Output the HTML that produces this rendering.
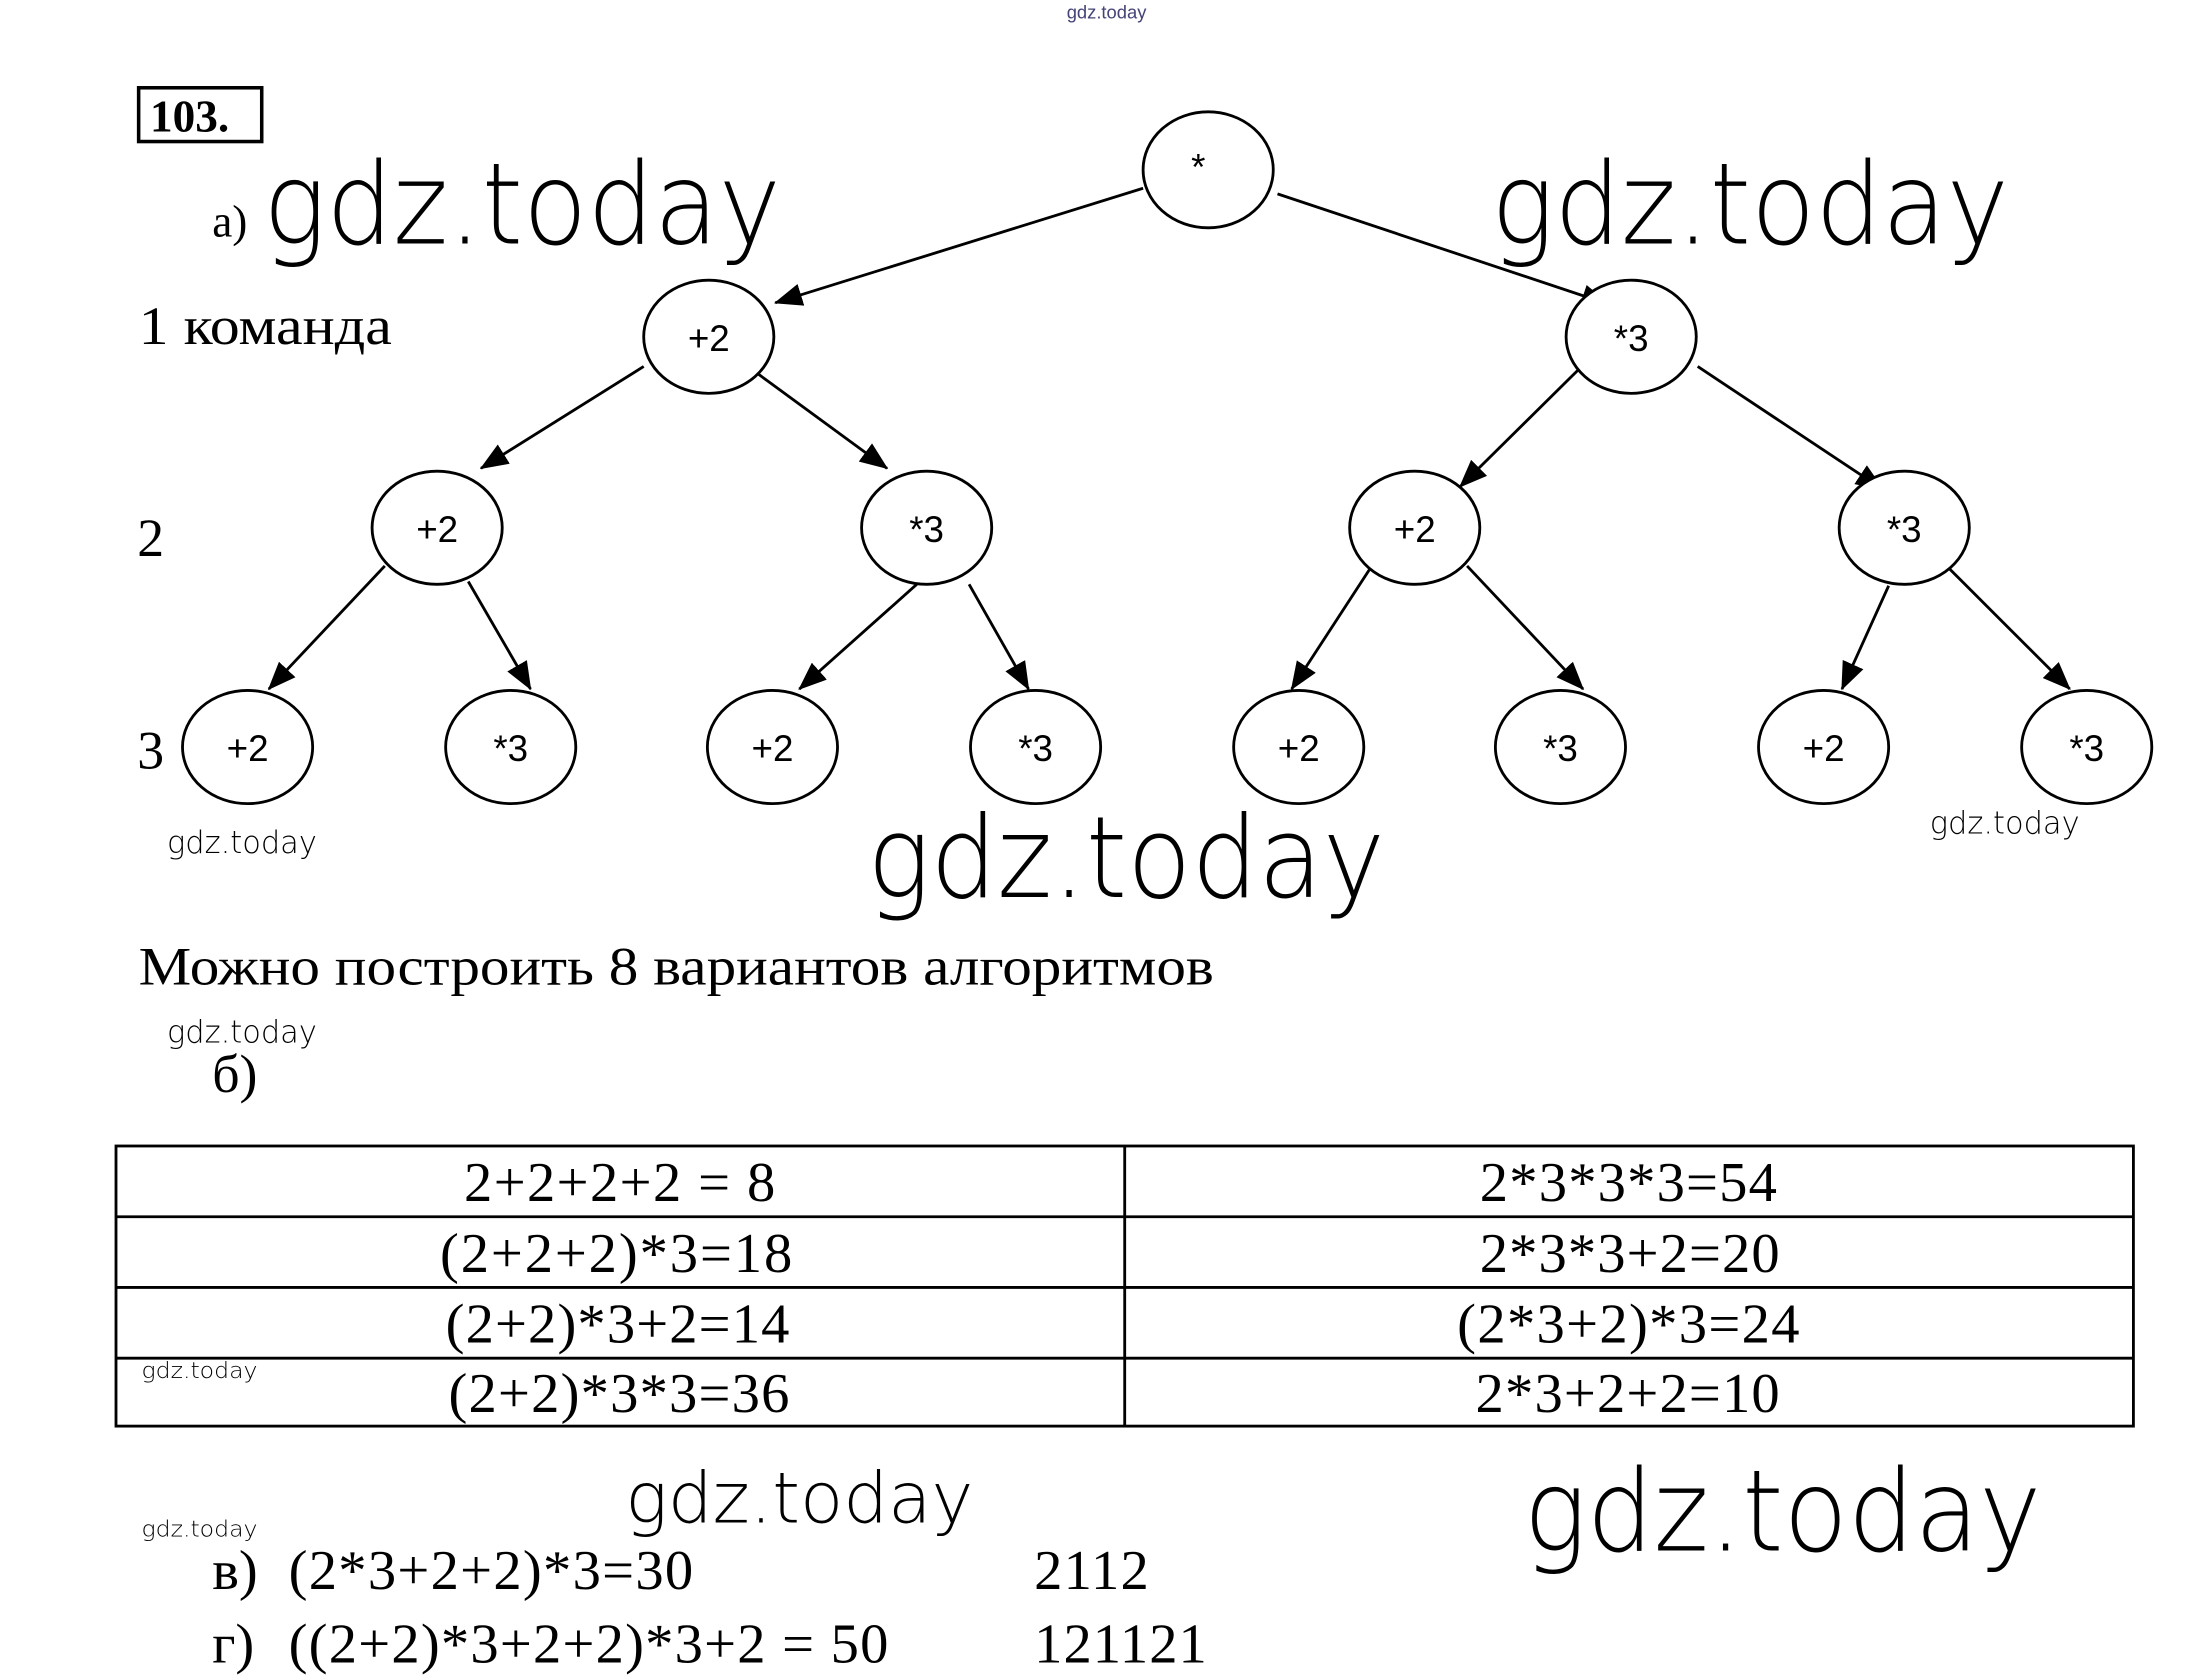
<!DOCTYPE html>
<html><head><meta charset="utf-8"><style>
html,body{margin:0;padding:0;background:#fff;}
svg{display:block;}
.t{font-family:"Liberation Serif",serif;fill:#000;}
.w{font-family:"DejaVu Sans","Liberation Sans",sans-serif;font-weight:200;fill:#000;}
.n{font-family:"Liberation Sans",sans-serif;font-size:26px;fill:#000;text-anchor:middle;}
</style></head><body>
<svg width="2190" height="1678" viewBox="0 0 1548 1186" xmlns="http://www.w3.org/2000/svg">
<defs><marker id="b" markerWidth="20" markerHeight="16" refX="19" refY="8" orient="auto" markerUnits="userSpaceOnUse"><path d="M0,0 L20,8 L0,16 z" fill="#000"/></marker></defs>
<text x="754" y="13" font-size="13" fill="#447" font-family="Liberation Sans,sans-serif">gdz.today</text>
<rect x="98" y="62" width="87" height="38" fill="none" stroke="#000" stroke-width="2.5"/>
<text class="t" x="106" y="93" font-size="32" font-weight="bold">103.</text>
<text class="t" x="150" y="167" font-size="32">а)</text>
<text class="w" x="186" y="172" font-size="80" textLength="366" lengthAdjust="spacingAndGlyphs">gdz.today</text>
<text class="w" x="1054" y="172" font-size="80" textLength="366" lengthAdjust="spacingAndGlyphs">gdz.today</text>
<text class="w" x="613" y="634" font-size="80" textLength="366" lengthAdjust="spacingAndGlyphs">gdz.today</text>
<text class="w" x="1077" y="1096" font-size="80" textLength="366" lengthAdjust="spacingAndGlyphs">gdz.today</text>
<text class="w" x="442" y="1076" font-size="50" textLength="246" lengthAdjust="spacingAndGlyphs">gdz.today</text>
<text class="w" x="118" y="603" font-size="22" textLength="106" lengthAdjust="spacingAndGlyphs">gdz.today</text>
<text class="w" x="1364" y="589" font-size="22" textLength="106" lengthAdjust="spacingAndGlyphs">gdz.today</text>
<text class="w" x="118" y="737" font-size="22" textLength="106" lengthAdjust="spacingAndGlyphs">gdz.today</text>
<text class="w" x="100" y="974" font-size="16" textLength="82" lengthAdjust="spacingAndGlyphs">gdz.today</text>
<text class="w" x="100" y="1086" font-size="16" textLength="82" lengthAdjust="spacingAndGlyphs">gdz.today</text>
<text class="t" x="98" y="243" font-size="38" textLength="179" lengthAdjust="spacingAndGlyphs">1 команда</text>
<text class="t" x="97" y="393" font-size="38">2</text>
<text class="t" x="97" y="543" font-size="38">3</text>
<g stroke="#000" stroke-width="2" fill="none" marker-end="url(#b)">
<line x1="808" y1="133" x2="548" y2="214"/>
<line x1="903" y1="137" x2="1137" y2="215"/>
<line x1="455" y1="259" x2="340" y2="331"/>
<line x1="530" y1="260" x2="627" y2="331"/>
<line x1="1118" y1="259" x2="1032" y2="344"/>
<line x1="1200" y1="259" x2="1331" y2="346"/>
<line x1="272" y1="400" x2="190" y2="487"/>
<line x1="331" y1="411" x2="375" y2="487"/>
<line x1="648" y1="413" x2="565" y2="487"/>
<line x1="685" y1="413" x2="727" y2="487"/>
<line x1="969" y1="401" x2="913" y2="487"/>
<line x1="1037" y1="400" x2="1119" y2="487"/>
<line x1="1335" y1="414" x2="1302" y2="487"/>
<line x1="1376" y1="400" x2="1463" y2="487"/>
</g>
<g stroke="#000" stroke-width="2" fill="#fff">
<ellipse cx="854" cy="120" rx="46" ry="41"/>
<ellipse cx="501" cy="238" rx="46" ry="40"/>
<ellipse cx="1153" cy="238" rx="46" ry="40"/>
<ellipse cx="309" cy="373" rx="46" ry="40"/>
<ellipse cx="655" cy="373" rx="46" ry="40"/>
<ellipse cx="1000" cy="373" rx="46" ry="40"/>
<ellipse cx="1346" cy="373" rx="46" ry="40"/>
<ellipse cx="175" cy="528" rx="46" ry="40"/>
<ellipse cx="361" cy="528" rx="46" ry="40"/>
<ellipse cx="546" cy="528" rx="46" ry="40"/>
<ellipse cx="732" cy="528" rx="46" ry="40"/>
<ellipse cx="918" cy="528" rx="46" ry="40"/>
<ellipse cx="1103" cy="528" rx="46" ry="40"/>
<ellipse cx="1289" cy="528" rx="46" ry="40"/>
<ellipse cx="1475" cy="528" rx="46" ry="40"/>
</g>
<text class="n" x="847" y="127">*</text>
<text class="n" x="501" y="248">+2</text><text class="n" x="1153" y="248">*3</text>
<text class="n" x="309" y="383">+2</text><text class="n" x="655" y="383">*3</text>
<text class="n" x="1000" y="383">+2</text><text class="n" x="1346" y="383">*3</text>
<text class="n" x="175" y="538">+2</text><text class="n" x="361" y="538">*3</text>
<text class="n" x="546" y="538">+2</text><text class="n" x="732" y="538">*3</text>
<text class="n" x="918" y="538">+2</text><text class="n" x="1103" y="538">*3</text>
<text class="n" x="1289" y="538">+2</text><text class="n" x="1475" y="538">*3</text>
<text class="t" x="98" y="696" font-size="38" textLength="760" lengthAdjust="spacingAndGlyphs">Можно построить 8 вариантов алгоритмов</text>
<text class="t" x="150" y="772" font-size="38">б)</text>
<g stroke="#000" stroke-width="2" fill="none">
<rect x="82" y="810" width="1426" height="198"/>
<line x1="795" y1="810" x2="795" y2="1008"/>
<line x1="82" y1="860" x2="1508" y2="860"/>
<line x1="82" y1="910" x2="1508" y2="910"/>
<line x1="82" y1="960" x2="1508" y2="960"/>
</g>
<g class="t" font-size="40" lengthAdjust="spacingAndGlyphs">
<text x="328" y="849" textLength="220">2+2+2+2 = 8</text><text x="1046" y="849" textLength="210">2*3*3*3=54</text>
<text x="311" y="899" textLength="249">(2+2+2)*3=18</text><text x="1046" y="899" textLength="212">2*3*3+2=20</text>
<text x="315" y="949" textLength="243">(2+2)*3+2=14</text><text x="1030" y="949" textLength="242">(2*3+2)*3=24</text>
<text x="317" y="998" textLength="241">(2+2)*3*3=36</text><text x="1043" y="998" textLength="215">2*3+2+2=10</text>
</g>
<g class="t" font-size="40" lengthAdjust="spacingAndGlyphs">
<text x="150" y="1123">в)</text><text x="204" y="1123" textLength="286">(2*3+2+2)*3=30</text><text x="731" y="1123" textLength="81">2112</text>
<text x="150" y="1175">г)</text><text x="204" y="1175" textLength="424">((2+2)*3+2+2)*3+2 = 50</text><text x="731" y="1175" textLength="122">121121</text>
</g>
</svg>
</body></html>
